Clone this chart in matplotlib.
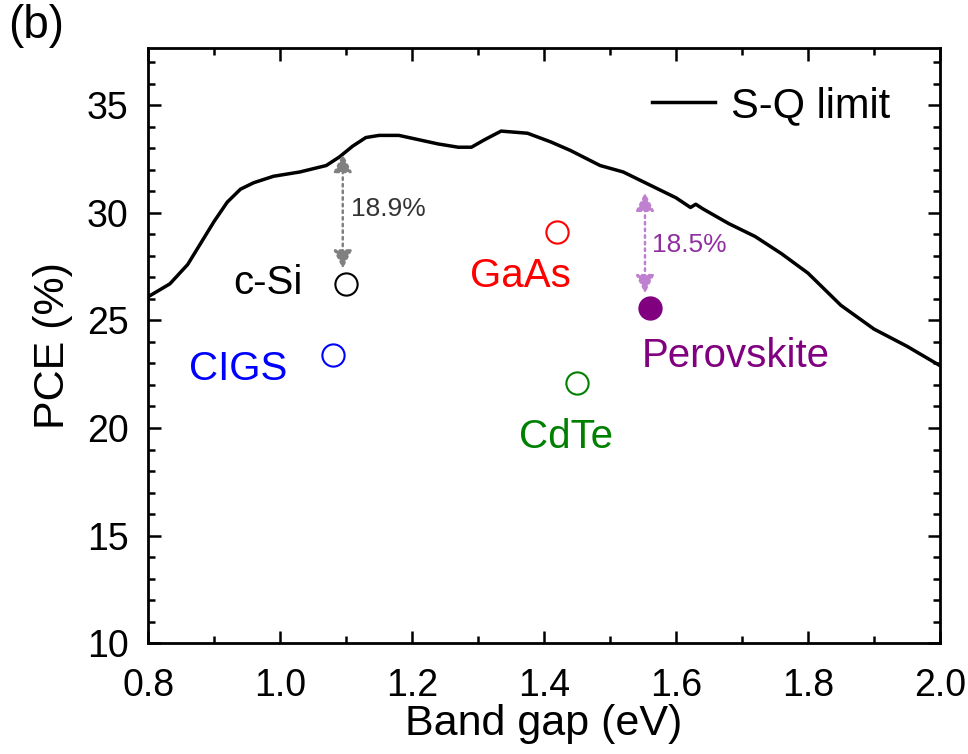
import matplotlib.pyplot as plt
from matplotlib.ticker import MultipleLocator

plt.rcParams['font.family'] = ['Liberation Sans', 'DejaVu Sans']

# S-Q limit curve
sq_gap = [0.80, 0.833, 0.86, 0.88, 0.90, 0.92, 0.94, 0.96, 0.99, 1.03, 1.07, 1.09,
          1.11, 1.13, 1.15, 1.18, 1.21, 1.24, 1.27, 1.29, 1.31, 1.335, 1.375,
          1.41, 1.44, 1.485, 1.52, 1.56, 1.60, 1.622, 1.63, 1.64, 1.68, 1.72,
          1.76, 1.80, 1.85, 1.90, 1.95, 2.00]
sq_pce = [26.1, 26.7, 27.6, 28.6, 29.6, 30.5, 31.1, 31.4, 31.7, 31.9, 32.2, 32.6,
          33.1, 33.5, 33.6, 33.6, 33.4, 33.2, 33.05, 33.05, 33.4, 33.8, 33.7,
          33.3, 32.9, 32.2, 31.9, 31.3, 30.7, 30.25, 30.4, 30.2, 29.5, 28.9,
          28.1, 27.2, 25.7, 24.6, 23.8, 22.9]

materials = ['c-Si', 'GaAs', 'CIGS', 'CdTe', 'Perovskite']
gaps = [1.10, 1.42, 1.08, 1.45, 1.56]
pce = [26.7, 29.1, 23.4, 22.1, 25.6]
colors = ['black', 'red', 'blue', 'green', 'purple']
filled = [False, False, False, False, True]
label_pos = [(0.982, 26.75), (1.364, 27.05), (0.937, 22.75), (1.433, 19.6), (1.69, 23.35)]

fig = plt.figure(figsize=(9.68, 7.54), dpi=100)
ax = fig.add_axes([0.153, 0.147, 0.818, 0.789])

ax.plot(sq_gap, sq_pce, color='black', lw=2.5, label='S-Q limit')

for name, g, p, c, f, (lx, ly) in zip(materials, gaps, pce, colors, filled, label_pos):
    ax.plot(g, p, 'o', ms=16, mfc=c if f else 'none', mec=c, mew=1.5)
    ax.text(lx, ly, name, color=c, fontsize=29, ha='center', va='center')

# efficiency gap arrows
ax.annotate('', xy=(1.095, 32.75), xytext=(1.095, 27.4),
            arrowprops=dict(arrowstyle='<|-|>', color='grey', ls=':', lw=1.8,
                            mutation_scale=28, shrinkA=0, shrinkB=0))
ax.text(1.108, 30.2, '18.9%', fontsize=19, color='#333333', va='center')
ax.annotate('', xy=(1.553, 30.95), xytext=(1.553, 26.25),
            arrowprops=dict(arrowstyle='<|-|>', color='#c080d0', ls=':', lw=1.8,
                            mutation_scale=28, shrinkA=0, shrinkB=0))
ax.text(1.563, 28.5, '18.5%', fontsize=19, color='#9030a0', va='center')

ax.set_xlim(0.8, 2.0)
ax.set_ylim(10, 37.65)
ax.xaxis.set_minor_locator(MultipleLocator(0.1))
ax.yaxis.set_major_locator(MultipleLocator(5))
ax.yaxis.set_minor_locator(MultipleLocator(1))
ax.set_xticks([0.8, 1.0, 1.2, 1.4, 1.6, 1.8, 2.0])
ax.set_xticklabels(['0.8', '1.0', '1.2', '1.4', '1.6', '1.8', '2.0'])
ax.tick_params(which='both', direction='in', top=True, right=True, width=1.8,
               labelsize=27)
ax.tick_params(which='major', length=9)
ax.tick_params(axis='y', which='major', pad=14)
ax.tick_params(axis='x', which='major', pad=18)
ax.tick_params(which='minor', length=5)
for s in ax.spines.values():
    s.set_linewidth(2)

ax.set_xlabel('Band gap (eV)', fontsize=31, labelpad=0)
ax.set_ylabel('PCE (%)', fontsize=31, labelpad=10)

ax.legend(loc='upper right', frameon=False, fontsize=30, handlelength=1.5,
          handletextpad=0.4, borderaxespad=0.5, bbox_to_anchor=(0.985, 1.0))

fig.text(0.008, 0.965, '(b)', fontsize=33, va='center')

fig.savefig('out.png', dpi=100)
